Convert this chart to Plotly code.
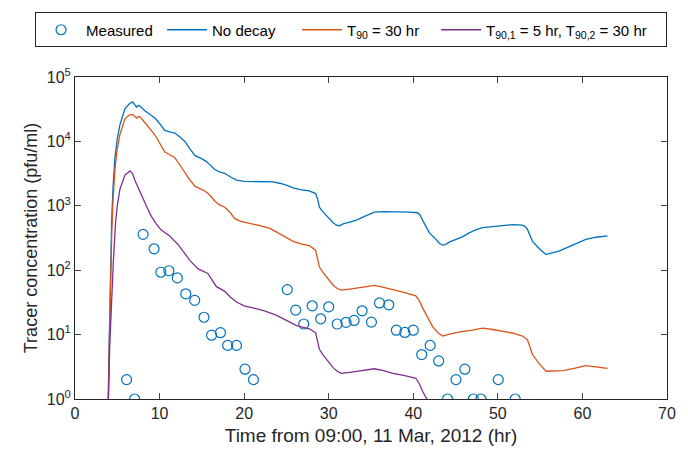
import plotly.graph_objects as go

# ---------------- data ----------------
meas_t = [6.1, 7.05, 8.05, 9.35, 10.15, 11.1, 12.1, 13.1, 14.15, 15.25, 16.15, 17.2, 18.05, 19.1,
          20.1, 21.1, 25.1, 26.1, 27.05, 28.05, 29.05, 30.0, 31.0, 32.05, 33.0, 33.95, 35.05,
          36.0, 37.1, 38.0, 39.0, 40.0, 41.0, 42.0, 43.0, 44.05, 45.05, 46.1, 47.1, 48.0,
          50.05, 52.05]
meas_c = [2, 1, 360, 215, 93, 98, 76, 43, 34, 18.6, 9.8, 10.7, 6.8, 6.8,
          2.9, 2, 50, 24, 14.6, 28, 17.6, 27, 14.6, 15.5, 16.6, 23.4, 15.6,
          31, 29, 11.7, 10.8, 11.7, 4.9, 6.8, 3.9, 1, 2, 2.9, 1, 1,
          2, 1]

nodecay_t = [3.85, 3.93, 4.0, 4.1, 4.2, 4.33, 4.5, 4.72, 5.0, 5.31, 5.9, 6.4, 6.81, 7.1, 7.28, 7.5,
             7.67, 8.26, 8.8, 9.45, 10.0, 10.6, 11.2, 11.8, 12.4, 13.0, 13.6, 14.2, 14.96, 15.5,
             15.9, 16.5, 17.0, 17.7, 18.4, 19.1, 20.0, 21.05, 22.2, 23.4, 24.2, 25.0, 25.8,
             26.6, 27.7, 28.45, 28.7, 28.9, 29.3, 29.7, 30.1, 30.5, 30.9, 31.3, 31.7, 32.1,
             33.3, 34.3, 35.4, 36.5, 38.0, 39.5, 40.5, 40.8, 41.1, 41.5, 41.9, 42.5, 43.1,
             43.5, 43.8, 44.3, 45.0, 45.8, 46.6, 47.3, 48.2, 49.4, 50.6, 51.8, 52.9, 53.2,
             53.5, 54.1, 54.9, 55.7, 56.4, 57.3, 58.5, 59.5, 60.4, 61.6, 62.97]
nodecay_c = [0.5, 1, 4, 25, 100, 560, 2000, 5600, 11000, 18000, 32000, 38000, 41000, 35500, 34000, 36300,
             35500, 30000, 26300, 23000, 19000, 14800, 14100, 13500, 11700, 10000, 7600, 6000, 5400, 4900,
             4400, 3700, 3400, 3200, 2800, 2500, 2400, 2400, 2400, 2350, 2240, 2100, 1900,
             1780, 1700, 1550, 1260, 950, 810, 710, 620, 550, 500, 490, 525, 540,
             600, 690, 800, 810, 810, 800, 780, 720, 600, 470, 380, 320, 260,
             245, 250, 275, 300, 330, 380, 420, 460, 480, 500, 510, 500, 480,
             430, 280, 215, 175, 185, 200, 235, 270, 300, 325, 340]

t90_t = [3.85, 3.95, 4.05, 4.15, 4.25, 4.35, 4.5, 4.75, 5.0, 5.3, 5.9, 6.4, 6.81, 7.1, 7.28, 7.5,
         7.67, 8.2, 8.66, 9.2, 9.64, 10.1, 10.6, 11.2, 11.8, 12.4, 13.0, 13.6, 14.2, 15.35,
         15.9, 16.5, 17.0, 17.7, 18.3, 18.9, 19.6, 20.3, 21.6, 23.0, 24.4, 25.8, 26.8,
         27.7, 28.45, 28.7, 28.9, 29.3, 29.7, 30.1, 30.5, 31.0, 31.5, 32.5, 33.65, 35.4,
         36.5, 37.6, 39.0, 40.3, 40.7, 41.1, 41.7, 42.3, 42.9, 43.5, 44.3, 45.5, 47.0,
         48.2, 49.4, 50.6, 51.8, 52.9, 53.5, 54.1, 54.9, 55.7, 56.7, 57.7, 59.0, 60.4,
         61.6, 62.97]
t90_c = [0.5, 1, 6, 32, 125, 400, 1260, 4000, 7600, 12600, 22400, 25700, 26300, 24000, 22900, 24300,
         24000, 20000, 17000, 13800, 11500, 8900, 6900, 6200, 5600, 4300, 3200, 2500, 2000, 1700,
         1480, 1200, 1050, 950, 800, 630, 575, 550, 500, 450, 360, 280, 255,
         240, 205, 150, 112, 93, 80, 68, 59, 52, 49, 51, 54, 58,
         54, 50, 45, 40, 34, 26, 18.6, 13.2, 10.7, 9.5, 10.2, 11, 11.7,
         12.6, 12, 11.2, 10.5, 9.5, 8.3, 4.9, 3.5, 2.7, 2.75, 2.75, 3.0, 3.3,
         3.16, 3.0]

two_t = [3.85, 3.95, 4.1, 4.3, 4.52, 4.8, 5.0, 5.3, 5.9, 6.5, 6.8, 7.08, 7.47, 7.8, 8.26, 8.6,
         9.05, 9.6, 10.2, 11.2, 12.2, 12.9, 13.6, 14.56, 15.7, 16.2, 16.7, 17.7, 18.4, 19.1,
         20.0, 21.05, 22.4, 23.8, 25.0, 26.2, 27.0, 27.7, 28.45, 28.7, 28.9, 29.3, 29.7,
         30.1, 30.5, 31.0, 31.5, 32.5, 33.65, 35.4, 36.5, 37.6, 39.0, 40.3, 40.7, 41.1,
         41.6, 42.0]
two_c = [0.5, 1, 6.3, 32, 126, 560, 1000, 1780, 3000, 3470, 3160, 2500, 1900, 1500, 1120, 890,
         680, 525, 420, 340, 250, 186, 141, 105, 89, 71, 56, 47, 38, 32,
         28, 26, 23.4, 20, 16.6, 13.8, 12.9, 12.3, 10.7, 7.9, 5.9, 4.9, 4.2,
         3.5, 3.1, 2.7, 2.5, 2.6, 2.75, 2.95, 2.75, 2.5, 2.3, 2.1, 1.74, 1.32,
         1.0, 0.76]

x_ticks = [0, 10, 20, 30, 40, 50, 60, 70]
y_ticks = [1, 10, 100, 1000, 10000, 100000]
y_ticktext = ["10<sup>0</sup>", "10<sup>1</sup>", "10<sup>2</sup>", "10<sup>3</sup>",
              "10<sup>4</sup>", "10<sup>5</sup>"]
y_minor = [m * d for d in [1, 10, 100, 1000, 10000] for m in range(2, 10)]

BLUE = "#0072BD"
ORANGE = "#D95319"
PURPLE = "#7E2F8E"
AX = "#262626"
FONT = "Liberation Sans, Arial, sans-serif"

fig = go.Figure()
fig.add_trace(go.Scatter(x=meas_t, y=meas_c, mode="markers", name="Measured",
                         legendwidth=71,
                         marker=dict(symbol="circle-open", size=10, color=BLUE,
                                     line=dict(width=1.2, color=BLUE))))
fig.add_trace(go.Scatter(x=nodecay_t, y=nodecay_c, mode="lines", name="No decay",
                         legendwidth=80,
                         line=dict(color=BLUE, width=1.3)))
fig.add_trace(go.Scatter(x=t90_t, y=t90_c, mode="lines", name="T<sub>90</sub> = 30 hr",
                         legendwidth=84,
                         line=dict(color=ORANGE, width=1.3)))
fig.add_trace(go.Scatter(x=two_t, y=two_c, mode="lines",
                         name="T<sub>90,1</sub> = 5 hr, T<sub>90,2</sub> = 30 hr",
                         legendwidth=175,
                         line=dict(color=PURPLE, width=1.3)))

fig.update_layout(
    width=688, height=455,
    margin=dict(l=75, r=20, t=69, b=54),
    paper_bgcolor="white", plot_bgcolor="white",
    font=dict(family=FONT, color=AX, size=16),
    showlegend=True,
    legend=dict(orientation="h", x=-0.0675, xanchor="left", y=1.146, yanchor="middle",
                bordercolor=AX, borderwidth=1, bgcolor="white",
                font=dict(size=15, family=FONT, color="black"),
                itemwidth=40, tracegroupgap=0),
    xaxis=dict(range=[0, 70], tickvals=x_ticks, ticks="inside", ticklen=6,
               showline=True, linecolor=AX, linewidth=1, mirror="ticks",
               showgrid=False, zeroline=False, tickfont=dict(size=16, color=AX),
               title=dict(text="Time from 09:00, 11 Mar, 2012 (hr)", font=dict(size=19, color=AX),
                          standoff=7)),
    yaxis=dict(type="log", range=[0, 5], tickvals=y_ticks, ticktext=y_ticktext,
               ticks="inside", ticklen=6, showline=True, linecolor=AX, linewidth=1,
               mirror="ticks", showgrid=False, zeroline=False,
               tickfont=dict(size=16, color=AX),
               title=dict(text="Tracer concentration (pfu/ml)", font=dict(size=18, color=AX),
                          standoff=4)),
    yaxis2=dict(type="log", range=[0, 5], overlaying="y", anchor="x", side="left",
                tickvals=y_minor, ticks="inside", ticklen=3, tickcolor=AX,
                showticklabels=False, showline=False, mirror="ticks",
                showgrid=False, zeroline=False),
)

fig.write_html("out.html")
